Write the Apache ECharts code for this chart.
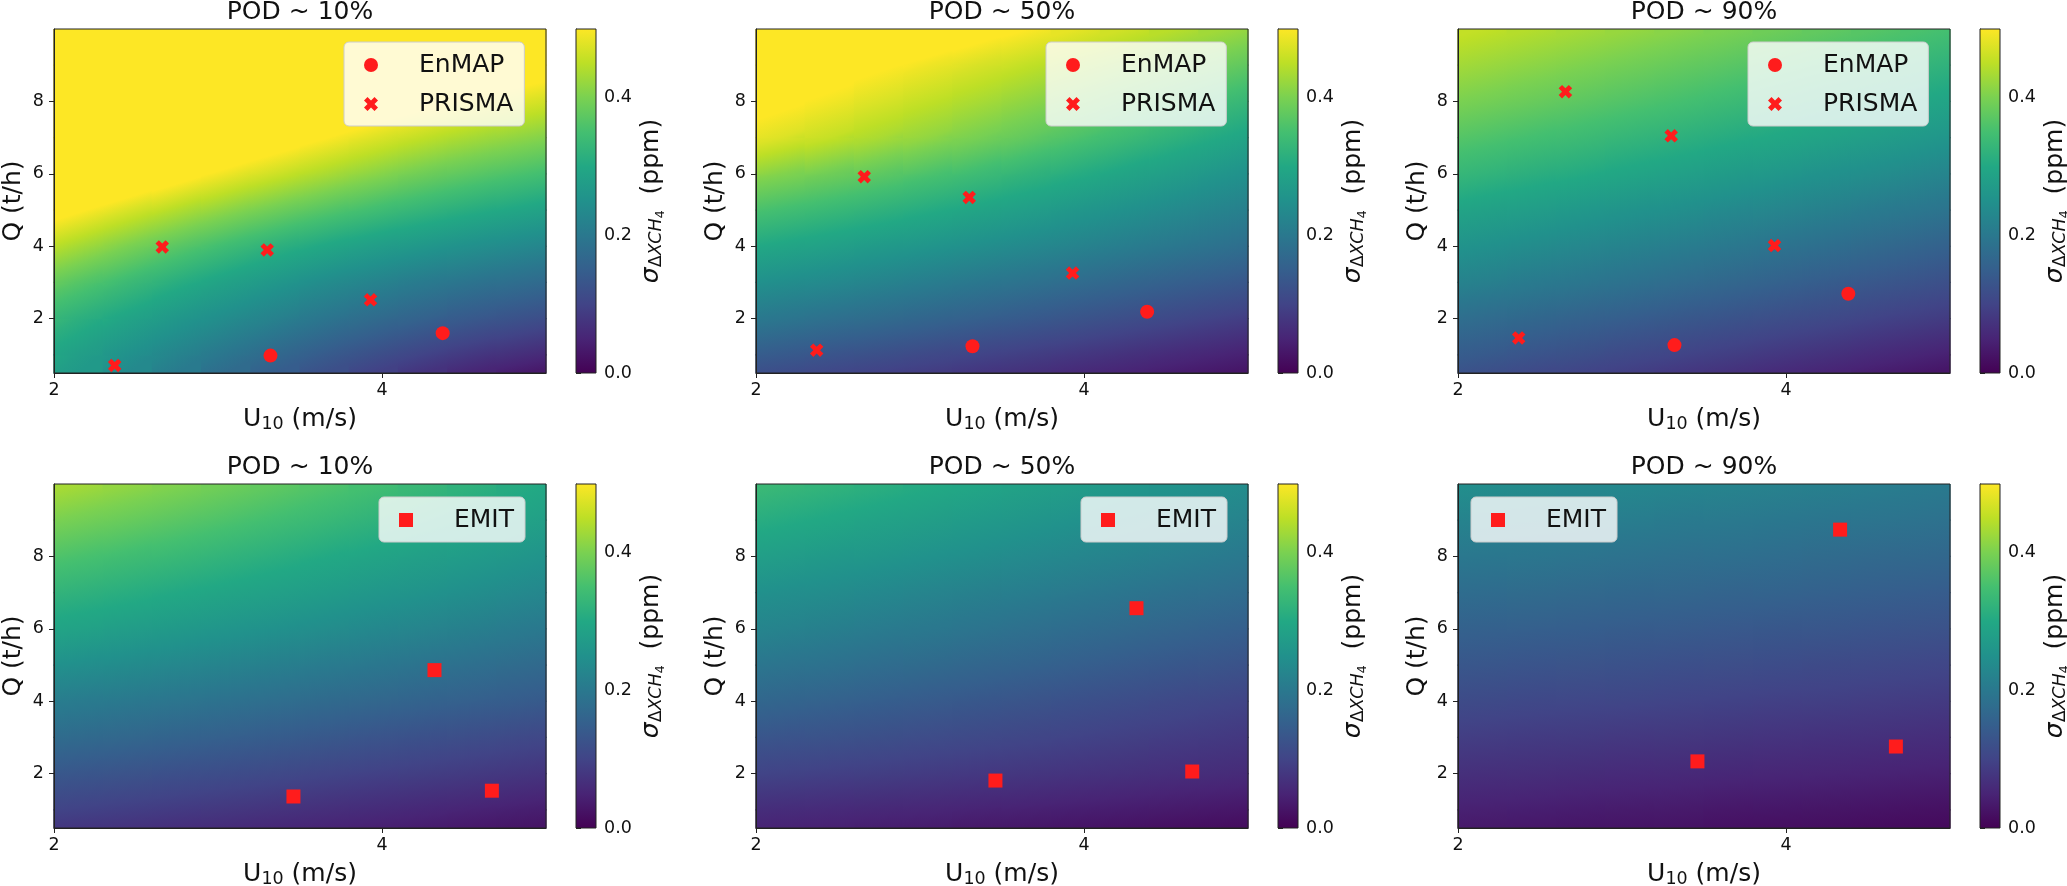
<!DOCTYPE html>
<html>
<head>
<meta charset="utf-8">
<script src="https://cdn.jsdelivr.net/npm/echarts@6/dist/echarts.min.js"></script>
<style>
html,body{margin:0;padding:0;background:#ffffff;}
#chart{width:2067px;height:886px;}
</style>
</head>
<body>
<div id="chart"></div>
<script>
// ------------------------------------------------------------------
// DATA (values above 0.5 are
// estimates of the saturated, yellow region)
// ------------------------------------------------------------------
// Wind-speed column centres (m/s) and emission-rate levels (t/h) of the sigma grids
const U_centers = [2.15, 2.45, 2.75, 3.05, 3.35, 3.65, 3.95, 4.25, 4.55, 4.85];
const Q_levels  = [0.5, 1, 2, 3, 4, 5, 6, 7, 8, 9, 10];

const x_ticks = [2, 4];
const y_ticks = [2, 4, 6, 8];
const cbar_ticks = [0, 0.2, 0.4];
const panel_titles = ['POD ~ 10%', 'POD ~ 50%', 'POD ~ 90%', 'POD ~ 10%', 'POD ~ 50%', 'POD ~ 90%'];

// sigma_{dXCH4} (ppm); one row per Q level (bottom to top), one value per U column
const sigma_enmap_prisma_pod10 = [
  [0.267, 0.235, 0.204, 0.174, 0.146, 0.120, 0.095, 0.072, 0.051, 0.035],
  [0.279, 0.250, 0.221, 0.194, 0.168, 0.143, 0.120, 0.099, 0.080, 0.065],
  [0.316, 0.290, 0.264, 0.240, 0.217, 0.194, 0.174, 0.155, 0.138, 0.124],
  [0.366, 0.338, 0.310, 0.285, 0.262, 0.240, 0.222, 0.205, 0.190, 0.177],
  [0.432, 0.400, 0.370, 0.343, 0.318, 0.297, 0.278, 0.262, 0.247, 0.233],
  [0.505, 0.472, 0.442, 0.414, 0.389, 0.366, 0.345, 0.326, 0.309, 0.294],
  [0.584, 0.553, 0.522, 0.490, 0.463, 0.437, 0.413, 0.390, 0.371, 0.355],
  [0.653, 0.621, 0.589, 0.558, 0.530, 0.502, 0.476, 0.453, 0.432, 0.415],
  [0.732, 0.697, 0.663, 0.630, 0.599, 0.569, 0.541, 0.516, 0.494, 0.476],
  [0.811, 0.773, 0.736, 0.701, 0.668, 0.636, 0.607, 0.580, 0.556, 0.536],
  [0.889, 0.849, 0.810, 0.773, 0.737, 0.703, 0.672, 0.643, 0.617, 0.596]
];
const sigma_enmap_prisma_pod50 = [
  [0.115, 0.106, 0.096, 0.087, 0.077, 0.068, 0.058, 0.049, 0.039, 0.030],
  [0.140, 0.130, 0.120, 0.110, 0.100, 0.090, 0.080, 0.070, 0.060, 0.050],
  [0.195, 0.184, 0.173, 0.162, 0.151, 0.140, 0.129, 0.118, 0.107, 0.096],
  [0.244, 0.233, 0.221, 0.210, 0.198, 0.187, 0.175, 0.164, 0.152, 0.141],
  [0.294, 0.282, 0.270, 0.258, 0.246, 0.234, 0.222, 0.210, 0.198, 0.186],
  [0.348, 0.334, 0.320, 0.306, 0.292, 0.278, 0.264, 0.250, 0.236, 0.222],
  [0.407, 0.390, 0.374, 0.357, 0.341, 0.324, 0.308, 0.291, 0.275, 0.258],
  [0.475, 0.456, 0.436, 0.417, 0.397, 0.378, 0.358, 0.339, 0.319, 0.300],
  [0.510, 0.492, 0.473, 0.454, 0.435, 0.416, 0.397, 0.378, 0.359, 0.340],
  [0.541, 0.524, 0.506, 0.489, 0.471, 0.454, 0.436, 0.419, 0.401, 0.384],
  [0.591, 0.573, 0.555, 0.537, 0.519, 0.501, 0.483, 0.465, 0.447, 0.429]
];
const sigma_enmap_prisma_pod90 = [
  [0.120, 0.110, 0.100, 0.090, 0.080, 0.070, 0.060, 0.050, 0.040, 0.030],
  [0.140, 0.130, 0.120, 0.110, 0.100, 0.090, 0.080, 0.070, 0.060, 0.050],
  [0.175, 0.166, 0.156, 0.147, 0.137, 0.128, 0.118, 0.109, 0.099, 0.090],
  [0.215, 0.205, 0.195, 0.185, 0.175, 0.165, 0.155, 0.145, 0.135, 0.125],
  [0.250, 0.240, 0.230, 0.220, 0.210, 0.200, 0.190, 0.180, 0.170, 0.160],
  [0.285, 0.275, 0.265, 0.255, 0.245, 0.235, 0.225, 0.215, 0.205, 0.195],
  [0.325, 0.314, 0.304, 0.293, 0.283, 0.272, 0.262, 0.251, 0.241, 0.230],
  [0.360, 0.349, 0.339, 0.328, 0.318, 0.307, 0.297, 0.286, 0.276, 0.265],
  [0.395, 0.384, 0.373, 0.362, 0.351, 0.340, 0.329, 0.318, 0.307, 0.296],
  [0.425, 0.414, 0.403, 0.392, 0.381, 0.370, 0.359, 0.348, 0.337, 0.326],
  [0.455, 0.444, 0.433, 0.422, 0.411, 0.400, 0.389, 0.378, 0.367, 0.356]
];
const sigma_emit_pod10 = [
  [0.077, 0.072, 0.066, 0.061, 0.055, 0.050, 0.044, 0.039, 0.033, 0.028],
  [0.097, 0.091, 0.085, 0.079, 0.073, 0.067, 0.061, 0.055, 0.049, 0.043],
  [0.133, 0.127, 0.121, 0.115, 0.109, 0.102, 0.096, 0.090, 0.084, 0.078],
  [0.172, 0.165, 0.158, 0.151, 0.144, 0.137, 0.130, 0.123, 0.116, 0.109],
  [0.207, 0.200, 0.193, 0.186, 0.179, 0.172, 0.165, 0.158, 0.151, 0.144],
  [0.246, 0.238, 0.230, 0.222, 0.214, 0.206, 0.198, 0.190, 0.182, 0.174],
  [0.286, 0.277, 0.268, 0.259, 0.250, 0.241, 0.232, 0.223, 0.214, 0.205],
  [0.320, 0.311, 0.301, 0.292, 0.282, 0.273, 0.263, 0.254, 0.244, 0.235],
  [0.355, 0.344, 0.334, 0.323, 0.313, 0.302, 0.292, 0.281, 0.271, 0.260],
  [0.394, 0.382, 0.370, 0.358, 0.346, 0.334, 0.322, 0.310, 0.298, 0.286],
  [0.433, 0.419, 0.405, 0.391, 0.377, 0.363, 0.349, 0.335, 0.321, 0.307]
];
const sigma_emit_pod50 = [
  [0.048, 0.045, 0.041, 0.038, 0.034, 0.031, 0.027, 0.024, 0.020, 0.017],
  [0.063, 0.060, 0.056, 0.053, 0.049, 0.046, 0.042, 0.039, 0.035, 0.032],
  [0.098, 0.094, 0.090, 0.086, 0.082, 0.078, 0.074, 0.070, 0.066, 0.062],
  [0.130, 0.125, 0.120, 0.114, 0.109, 0.104, 0.099, 0.093, 0.088, 0.083],
  [0.162, 0.155, 0.149, 0.142, 0.136, 0.129, 0.123, 0.116, 0.110, 0.103],
  [0.192, 0.185, 0.178, 0.171, 0.164, 0.157, 0.150, 0.143, 0.136, 0.129],
  [0.221, 0.214, 0.206, 0.199, 0.191, 0.184, 0.176, 0.169, 0.161, 0.154],
  [0.246, 0.239, 0.231, 0.224, 0.216, 0.209, 0.201, 0.194, 0.186, 0.179],
  [0.276, 0.268, 0.260, 0.252, 0.244, 0.236, 0.228, 0.220, 0.212, 0.204],
  [0.306, 0.297, 0.288, 0.279, 0.270, 0.261, 0.252, 0.243, 0.234, 0.225],
  [0.335, 0.325, 0.315, 0.305, 0.295, 0.285, 0.275, 0.265, 0.255, 0.245]
];
const sigma_emit_pod90 = [
  [0.034, 0.032, 0.029, 0.027, 0.025, 0.022, 0.020, 0.018, 0.015, 0.013],
  [0.044, 0.042, 0.039, 0.037, 0.035, 0.032, 0.030, 0.028, 0.025, 0.023],
  [0.067, 0.065, 0.062, 0.060, 0.058, 0.055, 0.053, 0.051, 0.048, 0.046],
  [0.089, 0.086, 0.084, 0.081, 0.079, 0.076, 0.074, 0.071, 0.069, 0.066],
  [0.111, 0.108, 0.105, 0.103, 0.100, 0.097, 0.094, 0.092, 0.089, 0.086],
  [0.133, 0.130, 0.127, 0.124, 0.121, 0.118, 0.115, 0.112, 0.109, 0.106],
  [0.154, 0.151, 0.148, 0.145, 0.142, 0.139, 0.136, 0.133, 0.130, 0.127],
  [0.176, 0.173, 0.170, 0.166, 0.163, 0.160, 0.157, 0.153, 0.150, 0.147],
  [0.198, 0.195, 0.191, 0.188, 0.184, 0.181, 0.177, 0.174, 0.170, 0.167],
  [0.220, 0.216, 0.213, 0.209, 0.205, 0.202, 0.198, 0.194, 0.191, 0.187],
  [0.243, 0.239, 0.235, 0.231, 0.227, 0.223, 0.219, 0.215, 0.211, 0.207]
];

// Instrument points: [U10 (m/s), Q (t/h)]
const enmap_pod10  = [[3.32, 0.98], [4.37, 1.60]];
const prisma_pod10 = [[2.37, 0.71], [2.66, 3.98], [3.30, 3.90], [3.93, 2.52]];
const enmap_pod50  = [[3.32, 1.24], [4.385, 2.19]];
const prisma_pod50 = [[2.37, 1.13], [2.66, 5.92], [3.30, 5.35], [3.93, 3.26]];
const enmap_pod90  = [[3.32, 1.27], [4.38, 2.69]];
const prisma_pod90 = [[2.37, 1.47], [2.655, 8.27], [3.30, 7.05], [3.93, 4.02]];
const emit_pod10   = [[3.46, 1.37], [4.32, 4.86], [4.67, 1.53]];
const emit_pod50   = [[3.46, 1.81], [4.32, 6.57], [4.66, 2.06]];
const emit_pod90   = [[3.46, 2.34], [4.33, 8.74], [4.67, 2.75]];

// ------------------------------------------------------------------
// STYLE / LAYOUT
// ------------------------------------------------------------------
const FONT = 'DejaVu Sans';
const INK = '#111111';
const RED = '#ff1c1c';
const X_PATH = 'path://M1,0L2,1L3,0L4,1L3,2L4,3L3,4L2,3L1,4L0,3L1,2L0,1Z';
const SQ_PATH = 'path://M0,0L1,0L1,1L0,1Z';
const VIRIDIS = ['#440154','#482475','#414487','#355f8d','#2a788e','#21918c','#22a884','#44bf70','#7ad151','#bddf26','#fde725'];
const SIGMA_MIN = 0, SIGMA_MAX = 0.5;
const U_MIN = 2, U_MAX = 5, Q_MIN = 0.5, Q_MAX = 10;

const COL_LEFT = [54, 756, 1458];
const ROW_TOP = [29, 484];
const PW = 492, PH = 344;
const CB_OFFSET = 522, CB_W = 20;

const VIR_RGB = VIRIDIS.map(h => [parseInt(h.slice(1,3),16), parseInt(h.slice(3,5),16), parseInt(h.slice(5,7),16)]);
function viridis(v) {
  const t = Math.max(0, Math.min(1, (v - SIGMA_MIN) / (SIGMA_MAX - SIGMA_MIN))) * (VIR_RGB.length - 1);
  const i = Math.min(VIR_RGB.length - 2, Math.floor(t));
  const f = t - i;
  const a = VIR_RGB[i], b = VIR_RGB[i + 1];
  return 'rgb(' + [0,1,2].map(k => Math.round(a[k] + (b[k] - a[k]) * f)).join(',') + ')';
}
// colour-map knots (values at which the colour map changes slope / saturates)
const KNOTS = VIRIDIS.map((c, j) => SIGMA_MIN + j * (SIGMA_MAX - SIGMA_MIN) / (VIRIDIS.length - 1)).slice(1);

const panels = [
  {row:0, col:0, field:sigma_enmap_prisma_pod10, marks:[['EnMAP', enmap_pod10, 'circle'], ['PRISMA', prisma_pod10, X_PATH]], legendLeft:344},
  {row:0, col:1, field:sigma_enmap_prisma_pod50, marks:[['EnMAP', enmap_pod50, 'circle'], ['PRISMA', prisma_pod50, X_PATH]], legendLeft:1046},
  {row:0, col:2, field:sigma_enmap_prisma_pod90, marks:[['EnMAP', enmap_pod90, 'circle'], ['PRISMA', prisma_pod90, X_PATH]], legendLeft:1748},
  {row:1, col:0, field:sigma_emit_pod10, marks:[['EMIT', emit_pod10, SQ_PATH]], legendLeft:379},
  {row:1, col:1, field:sigma_emit_pod50, marks:[['EMIT', emit_pod50, SQ_PATH]], legendLeft:1081},
  {row:1, col:2, field:sigma_emit_pod90, marks:[['EMIT', emit_pod90, SQ_PATH]], legendLeft:1471}
];

// Local direction (dQ/dU) of the colour contours at every grid node, from the typed grid.
// Used only to orient the shading inside each drawn cell.
function nodeTilts(field) {
  const nU = U_centers.length, nQ = Q_levels.length;
  const t = [];
  for (let k = 0; k < nQ; k++) {
    t.push([]);
    for (let i = 0; i < nU; i++) {
      const i0 = Math.max(0, i - 1), i1 = Math.min(nU - 1, i + 1);
      const k0 = Math.max(0, k - 1), k1 = Math.min(nQ - 1, k + 1);
      const dU = (field[k][i1] - field[k][i0]) / (U_centers[i1] - U_centers[i0]);
      const dQ = (field[k1][i] - field[k0][i]) / (Q_levels[k1] - Q_levels[k0]);
      t[k].push(dQ > 1e-4 ? Math.max(-6, Math.min(6, -dU / dQ)) : null);
    }
  }
  return t;
}
function cellTilts(field) {
  const t = nodeTilts(field);
  const out = [];
  for (let k = 0; k < Q_levels.length - 1; k++) {
    out.push(U_centers.map((u, i) => {
      const a = t[k][i], b = t[k + 1][i];
      if (a != null && b != null) return (a + b) / 2;
      return a != null ? a : (b != null ? b : 0);
    }));
  }
  return out;
}

const half = (U_centers[1] - U_centers[0]) / 2;
function qOffset(q) { return (Q_MAX - q) / (Q_MAX - Q_MIN); }
function makeStripRenderer(tilts) {
  return function (params, api) {
    const i = params.dataIndex;
    const u = api.value(0);
    const c0 = api.coord([u, Q_MAX]);
    const x0 = api.coord([u - half, Q_MAX])[0];
    const x1 = api.coord([u + half, Q_MAX])[0];
    const yTop = c0[1];
    const yBot = api.coord([u, Q_MIN])[1];
    const H = yBot - yTop;
    const pxU = api.coord([u + 1, Q_MAX])[0] - c0[0];
    const pxQ = api.coord([u, Q_MIN])[1] - api.coord([u, Q_MIN + 1])[1];
    // colour stops along the column: at every grid level, plus where the colour map has knots
    const stops = [];
    for (let k = 0; k < Q_levels.length; k++) {
      const va = api.value(k + 1);
      stops.push({offset: qOffset(Q_levels[k]), color: viridis(va)});
      if (k < Q_levels.length - 1) {
        const vb = api.value(k + 2);
        KNOTS.forEach(kv => {
          if ((kv - va) * (kv - vb) < 0) {
            const q = Q_levels[k] + (kv - va) / (vb - va) * (Q_levels[k + 1] - Q_levels[k]);
            stops.push({offset: qOffset(q), color: viridis(kv)});
          }
        });
      }
    }
    stops.sort((a, b) => a.offset - b.offset);
    const children = [];
    for (let k = 0; k < Q_levels.length - 1; k++) {
      const ya = api.coord([u, Q_levels[k + 1]])[1];
      const yb = api.coord([u, Q_levels[k]])[1];
      const m = -tilts[k][i] * pxQ / pxU;       // screen slope of contours in this cell
      const d = H / (1 + m * m);
      const topCell = k === Q_levels.length - 2;
      children.push({
        type: 'rect',
        shape: {x: x0 - 0.6, y: ya - (topCell ? 0 : 0.6), width: x1 - x0 + 1.2,
                height: yb - ya + (topCell ? 0.6 : 1.2)},
        style: {fill: new echarts.graphic.LinearGradient(c0[0], yTop, c0[0] - m * d, yTop + d, stops, true)}
      });
    }
    return {type: 'group', children: children};
  };
}

const cbarStops = VIRIDIS.map((c, i) => ({offset: 1 - i / (VIRIDIS.length - 1), color: c})).reverse();

const option = {
  backgroundColor: '#ffffff',
  animation: false,
  title: [], grid: [], xAxis: [], yAxis: [], legend: [], series: []
};

const tickLabel = {fontSize: 17.5, fontFamily: FONT, color: INK};

panels.forEach((p, idx) => {
  const left = COL_LEFT[p.col], top = ROW_TOP[p.row];
  const gi = option.grid.length;
  option.grid.push({left: left, top: top, width: PW, height: PH, show: true, z: 5,
    backgroundColor: 'transparent', borderColor: '#222', borderWidth: 1, outerBoundsMode: 'none', containLabel: false});
  option.xAxis.push({
    gridIndex: gi, type: 'value', min: U_MIN, max: U_MAX, z: 6,
    axisLine: {show: true, onZero: false, lineStyle: {color: '#222', width: 1}},
    axisTick: {show: true, length: 5, lineStyle: {color: '#222'}, customValues: x_ticks},
    axisLabel: Object.assign({margin: 8, customValues: x_ticks}, tickLabel),
    splitLine: {show: false},
    name: '{m|U}{s|10}{m| (m/s)}', nameLocation: 'middle', nameGap: 32,
    nameTextStyle: {fontSize: 25, fontFamily: FONT, color: INK, rich: {
      m: {fontSize: 25, fontFamily: FONT, color: INK},
      s: {fontSize: 17.5, fontFamily: FONT, color: INK, padding: [10, 0, 0, 0]}
    }}
  });
  option.yAxis.push({
    gridIndex: gi, type: 'value', min: Q_MIN, max: Q_MAX, z: 6,
    axisLine: {show: true, onZero: false, lineStyle: {color: '#222', width: 1}},
    axisTick: {show: true, length: 5, lineStyle: {color: '#222'}, customValues: y_ticks},
    axisLabel: Object.assign({margin: 10, customValues: y_ticks}, tickLabel),
    splitLine: {show: false},
    name: 'Q (t/h)', nameLocation: 'middle', nameGap: 28,
    nameTextStyle: {fontSize: 25, fontFamily: FONT, color: INK}
  });
  option.series.push({
    type: 'custom', name: 'sigma' + idx, xAxisIndex: gi, yAxisIndex: gi,
    dimensions: ['U'].concat(Q_levels.map(q => 'Q' + q)),
    encode: {x: 0, y: 1},
    data: U_centers.map((u, i) => [u].concat(p.field.map(row => row[i]))),
    renderItem: makeStripRenderer(cellTilts(p.field)), silent: true, z: 1
  });
  p.marks.forEach(m => {
    option.series.push({
      type: 'scatter', name: m[0], xAxisIndex: gi, yAxisIndex: gi,
      data: m[1], symbol: m[2], symbolSize: m[2] === X_PATH ? 13.5 : 14,
      itemStyle: {color: RED, opacity: 1}, z: 3, silent: true
    });
  });

  // colorbar
  const ci = option.grid.length;
  option.grid.push({left: left + CB_OFFSET, top: top, width: CB_W, height: PH, show: true, z: 1,
    backgroundColor: new echarts.graphic.LinearGradient(0, 0, 0, 1, cbarStops),
    borderColor: '#222', borderWidth: 1, outerBoundsMode: 'none', containLabel: false});
  option.xAxis.push({gridIndex: ci, type: 'value', min: 0, max: 1, show: false});
  option.yAxis.push({
    gridIndex: ci, type: 'value', position: 'right', min: SIGMA_MIN, max: SIGMA_MAX,
    axisLine: {show: true, lineStyle: {color: '#222', width: 1}},
    axisTick: {show: true, length: 5, lineStyle: {color: '#222'}, customValues: cbar_ticks},
    axisLabel: Object.assign({margin: 8, customValues: cbar_ticks, formatter: v => v.toFixed(1)}, tickLabel),
    splitLine: {show: false},
    name: '{g|σ}{d|Δ}{i|XCH}{n|4}{m|  (ppm)}', nameLocation: 'middle', nameGap: 40,
    nameTextStyle: {fontSize: 25, fontFamily: FONT, color: INK, rich: {
      g: {fontSize: 25, fontFamily: FONT, fontStyle: 'italic', color: INK},
      d: {fontSize: 17.5, fontFamily: FONT, color: INK, padding: [10, 0, 0, 0]},
      i: {fontSize: 17.5, fontFamily: FONT, fontStyle: 'italic', color: INK, padding: [10, 0, 0, 0]},
      n: {fontSize: 12.5, fontFamily: FONT, color: INK, padding: [18, 0, 0, 0]},
      m: {fontSize: 25, fontFamily: FONT, color: INK}
    }}
  });

  option.title.push({
    text: panel_titles[idx], left: left + PW / 2, top: p.row === 0 ? -3 : 452, textAlign: 'center', padding: 0,
    textStyle: {fontSize: 25, fontWeight: 'normal', fontFamily: FONT, color: INK, lineHeight: 30}
  });

  option.legend.push({
    left: p.legendLeft, top: p.row === 0 ? 42 : 497, orient: 'vertical',
    data: p.marks.map(m => m[0]), selectedMode: false,
    itemWidth: 30, itemHeight: 14, itemGap: 9,
    padding: [8, 11, 7, 20],
    backgroundColor: 'rgba(255,255,255,0.8)', borderColor: '#cccccc', borderWidth: 1, borderRadius: 5,
    formatter: name => '{sp|}{t|' + name + '}',
    textStyle: {fontSize: 25, fontFamily: FONT, color: INK, lineHeight: 30,
      rich: {sp: {width: 28, height: 30}, t: {fontSize: 25, fontFamily: FONT, color: INK, lineHeight: 30}}},
    z: 8
  });
});

const chart = echarts.init(document.getElementById('chart'), null, {renderer: 'canvas'});
chart.setOption(option);
</script>
</body>
</html>
